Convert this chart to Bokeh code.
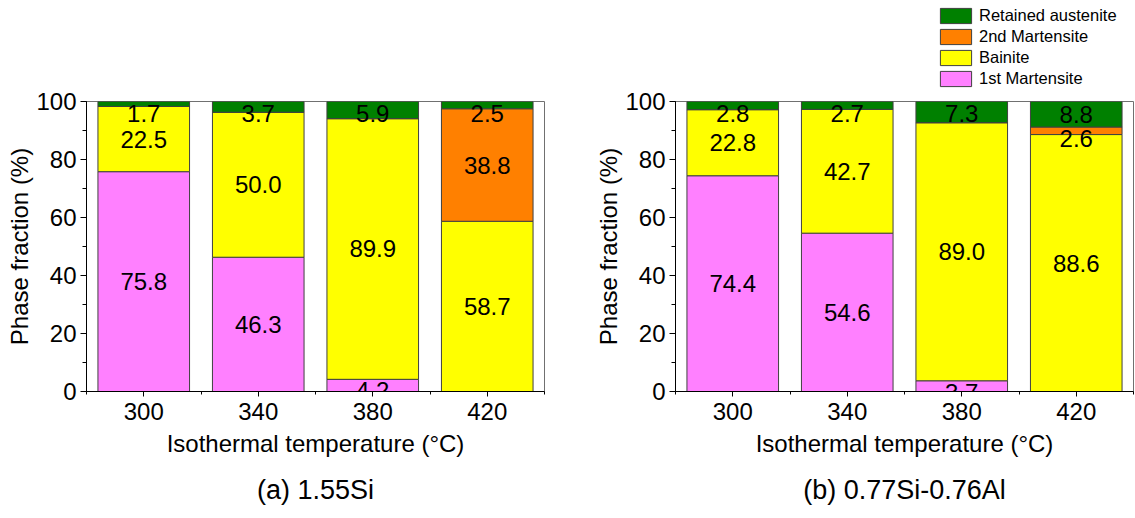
from bokeh.plotting import figure
from bokeh.models import (ColumnDataSource, Legend, LegendItem, FixedTicker,
                          SingleIntervalTicker, Range1d, Title)
from bokeh.layouts import row, column
from bokeh.embed import file_html
from bokeh.resources import INLINE
from bokeh.core.properties import value

# ---------------- data ----------------
temps = [300, 340, 380, 420]
tick_labels = ["300", "340", "380", "420"]
minor_temps = [280, 320, 360, 400, 440]
phases = ["1st Martensite", "Bainite", "2nd Martensite", "Retained austenite"]
colors = ["#FF80FF", "#FFFF00", "#FF8000", "#008000"]

a_m1 = [75.8, 46.3, 4.2, 0.0]
a_b = [22.5, 50.0, 89.9, 58.7]
a_m2 = [0.0, 0.0, 0.0, 38.8]
a_ra = [1.7, 3.7, 5.9, 2.5]

b_m1 = [74.4, 54.6, 3.7, 0.0]
b_b = [22.8, 42.7, 89.0, 88.6]
b_m2 = [0.0, 0.0, 0.0, 2.6]
b_ra = [2.8, 2.7, 7.3, 8.8]

captions = ["(a) 1.55Si", "(b) 0.77Si-0.76Al"]

FONT = "Liberation Sans"
keys = ["m1", "b", "m2", "ra"]
LINE = "#404040"


def make_panel(series, caption, width, height, border_left, border_right, border_top):
    p = figure(width=width, height=height, output_backend="svg", toolbar_location=None,
               x_range=Range1d(280, 440), y_range=Range1d(0, 100),
               min_border_left=border_left, min_border_right=border_right,
               min_border_top=border_top, min_border_bottom=127)
    p.background_fill_color = "white"
    p.border_fill_color = "white"
    p.outline_line_color = "#707070"
    p.outline_line_width = 1
    p.xgrid.visible = False
    p.ygrid.visible = False

    data = {"x": temps}
    for k, s in zip(keys, series):
        data[k] = s
    src = ColumnDataSource(data)
    p.vbar_stack(keys, x="x", width=32, source=src, color=colors,
                 line_color=LINE, line_width=1)

    # value labels at the middle of each segment (kept below the segment top)
    lx, ly, lt = [], [], []
    for i, t in enumerate(temps):
        base = 0.0
        for s in series:
            v = s[i]
            if v > 0:
                mid = base + v / 2.0
                top = base + v
                lx.append(t)
                ly.append(min(mid, top - 4.0))
                lt.append("%.1f" % v)
            base += v
    p.text(x=lx, y=ly, text=lt, text_font=value(FONT), text_font_size="24px",
           text_align="center", text_baseline="middle", text_color="black")

    # axes
    xa = p.xaxis[0]
    xa.ticker = FixedTicker(ticks=temps, minor_ticks=minor_temps)
    xa.major_label_overrides = {t: l for t, l in zip(temps, tick_labels)}
    xa.axis_label = "Isothermal temperature (°C)"
    ya = p.yaxis[0]
    ya.ticker = SingleIntervalTicker(interval=20, num_minor_ticks=2)
    ya.axis_label = "Phase fraction (%)"
    for ax in (xa, ya):
        ax.axis_line_color = "black"
        ax.major_tick_line_color = "black"
        ax.minor_tick_line_color = "black"
        ax.major_tick_in = 0
        ax.minor_tick_in = 0
        ax.major_label_text_font = FONT
        ax.major_label_text_font_size = "24px"
        ax.major_label_text_color = "black"
        ax.axis_label_text_font = FONT
        ax.axis_label_text_font_size = "24px"
        ax.axis_label_text_font_style = "normal"
        ax.axis_label_text_color = "black"
    xa.major_tick_out = 5
    xa.minor_tick_out = 3
    xa.major_label_standoff = 6
    xa.axis_label_standoff = 7
    ya.major_tick_out = 6
    ya.minor_tick_out = 4
    ya.major_label_standoff = 4
    ya.axis_label_standoff = 0

    cap = Title(text=caption, align="center", text_font=FONT, text_font_size="27px",
                text_font_style="normal", text_color="black", standoff=27)
    p.add_layout(cap, "below")
    return p


LEG_H = 88
p1 = make_panel([a_m1, a_b, a_m2, a_ra], captions[0], 590, 518, 86, 46, 101)
p2 = make_panel([b_m1, b_b, b_m2, b_ra], captions[1], 545, 518 - LEG_H, 85, 2, 101 - LEG_H)

# legend strip above the right panel (its swatch renderers lie below its y range)
lg = figure(width=545, height=LEG_H, output_backend="svg", toolbar_location=None,
            x_range=Range1d(280, 440), y_range=Range1d(200, 300),
            x_axis_location=None, y_axis_location=None,
            min_border_left=0, min_border_right=0, min_border_top=0, min_border_bottom=0)
lg.outline_line_color = None
lg.xgrid.visible = False
lg.ygrid.visible = False
lg.background_fill_color = "white"
lg.border_fill_color = "white"
leg_renderers = [lg.vbar(x=temps, top=s, width=32, fill_color=c, line_color=LINE)
                 for s, c in zip([b_m1, b_b, b_m2, b_ra], colors)]
items = [LegendItem(label=phases[i], renderers=[leg_renderers[i]]) for i in (3, 2, 1, 0)]
leg = Legend(items=items, location=(261, 0), padding=0, margin=0,
             border_line_color=None, background_fill_alpha=0,
             glyph_width=39, glyph_height=19, label_height=19, spacing=2,
             label_standoff=4, label_text_font=FONT, label_text_font_size="16.5px",
             label_text_color="black")
lg.add_layout(leg, "center")

layout = row(p1, column(lg, p2))
open("out.html", "w").write(file_html(layout, INLINE))
